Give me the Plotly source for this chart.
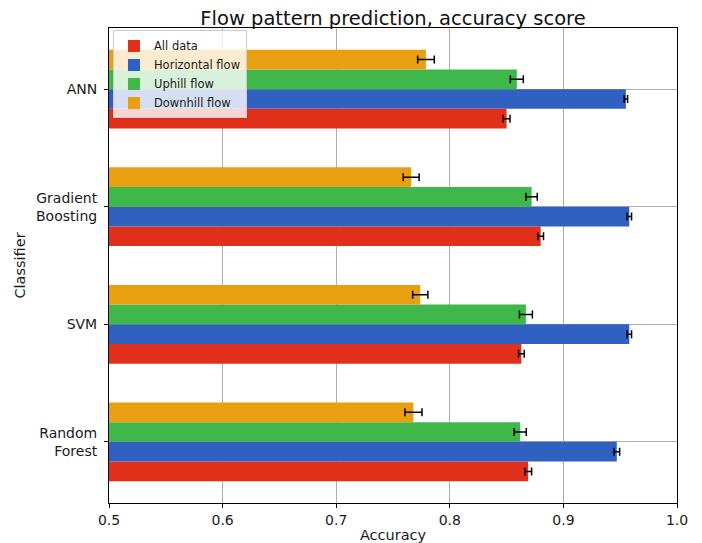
import plotly.graph_objects as go

classifiers = ["Random<br>Forest", "SVM", "Gradient<br>Boosting", "ANN"]
series_names = ["All data", "Horizontal flow", "Uphill flow", "Downhill flow"]
all_data = [0.869, 0.863, 0.880, 0.850]
horizontal = [0.947, 0.958, 0.958, 0.955]
uphill = [0.862, 0.867, 0.872, 0.859]
downhill = [0.768, 0.774, 0.766, 0.779]
err_all = [0.003, 0.0025, 0.0025, 0.003]
err_hor = [0.0025, 0.002, 0.002, 0.0015]
err_up = [0.0053, 0.0057, 0.005, 0.0057]
err_down = [0.0075, 0.0067, 0.007, 0.0073]
colors = ["#E0301A", "#3060C0", "#3FB74A", "#E8A012"]

values = [all_data, horizontal, uphill, downhill]
errors = [err_all, err_hor, err_up, err_down]

fig = go.Figure()
for name, vals, errs, col in zip(series_names, values, errors, colors):
    fig.add_trace(go.Bar(
        y=classifiers, x=vals, name=name, orientation="h",
        marker=dict(color=col, line=dict(width=0)),
        error_x=dict(type="data", array=errs, color="black", thickness=1.5, width=4),
    ))

font = "DejaVu Sans, sans-serif"
# the page body adds an 8px offset; figure is sized so the plot lands where the reference has it
W, H = 694, 535
ML, MR, MT, MB = 101, 25, 20, 40
fig.update_layout(
    width=W, height=H,
    margin=dict(l=ML, r=MR, t=MT, b=MB, autoexpand=False),
    paper_bgcolor="white", plot_bgcolor="white",
    barmode="group", bargap=0.33, bargroupgap=0,
    font=dict(family=font, size=14, color="#1a1a1a"),
    title=dict(text="Flow pattern prediction, accuracy score", x=(ML + (W - MR - ML) / 2) / W,
               xanchor="center", y=1.0, yanchor="top", automargin=False,
               pad=dict(t=3, b=0, l=0, r=0),
               font=dict(size=19.5, color="#111")),
    legend=dict(x=0.007, y=0.995, xanchor="left", yanchor="top",
                bgcolor="rgba(255,255,255,0.8)", bordercolor="#cccccc", borderwidth=1,
                font=dict(size=11.5), traceorder="normal",
                tracegroupgap=0, itemwidth=30),
    xaxis=dict(range=[0.5, 1.0], tickvals=[0.5, 0.6, 0.7, 0.8, 0.9, 1.0],
               ticktext=["0.5", "0.6", "0.7", "0.8", "0.9", "1.0"],
               showgrid=True, gridcolor="#b0b0b0", gridwidth=1,
               showline=True, linecolor="black", linewidth=1, mirror=True,
               ticks="outside", ticklen=4, tickcolor="black", automargin=False,
               title=dict(text="Accuracy", standoff=9, font=dict(size=14.5)), zeroline=False),
    yaxis=dict(range=[-0.52, 3.52], showgrid=True, gridcolor="#b0b0b0", gridwidth=1,
               showline=True, linecolor="black", linewidth=1, mirror=True,
               ticks="outside", ticklen=4, tickcolor="black", automargin=False,
               ticklabelstandoff=4,
               title=dict(text="Classifier", standoff=6, font=dict(size=14.5))),
)
fig.write_html("out.html")
